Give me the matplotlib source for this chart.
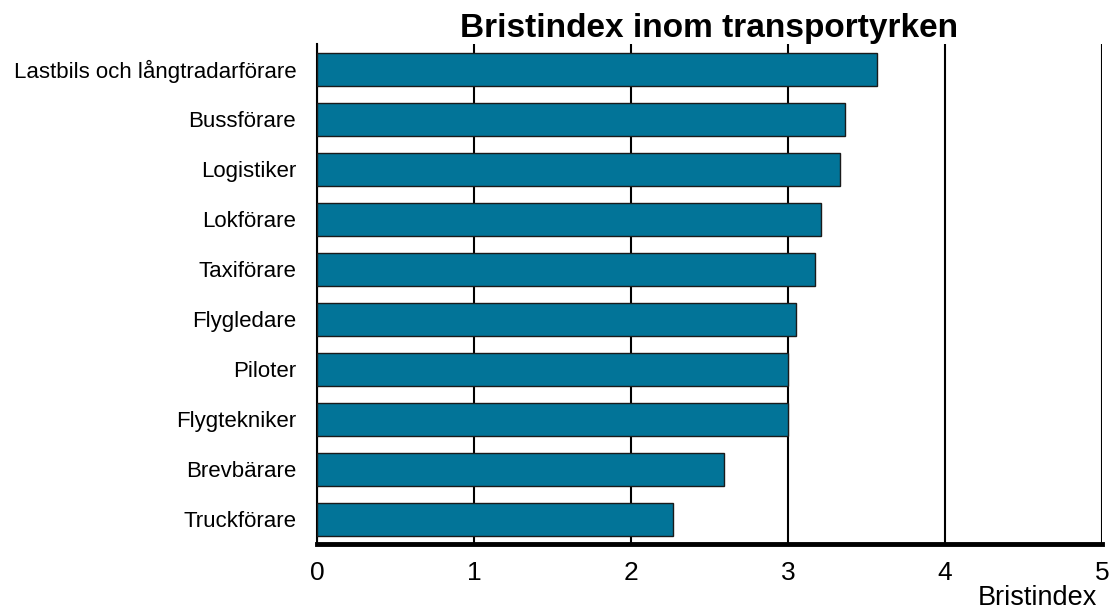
import matplotlib.pyplot as plt

plt.rcParams['font.family'] = ['Liberation Sans', 'DejaVu Sans']

# Data
yrken = ['Lastbils och långtradarförare', 'Bussförare', 'Logistiker', 'Lokförare',
         'Taxiförare', 'Flygledare', 'Piloter', 'Flygtekniker', 'Brevbärare',
         'Truckförare']
bristindex = [3.57, 3.36, 3.33, 3.21, 3.17, 3.05, 3.00, 3.00, 2.59, 2.27]
xticks = [0, 1, 2, 3, 4, 5]

fig = plt.figure(figsize=(11.11, 6.12), dpi=100)
ax = fig.add_axes([0.2853, 0.111, 0.7066, 0.817])

ypos = list(range(len(yrken)))
ax.barh(ypos, bristindex, height=0.66, color='#027498', edgecolor='#1a1a1a',
        linewidth=1, zorder=3)

ax.set_ylim(len(yrken) - 0.5, -0.5)
ax.set_yticks(ypos)
ax.set_yticklabels(yrken, fontsize=16)
ax.tick_params(axis='y', length=0, pad=15)

ax.set_xlim(0, 5)
ax.set_xticks(xticks)
ax.set_xticklabels([str(t) for t in xticks], fontsize=19)
ax.tick_params(axis='x', length=0, pad=12)

# vertical grid lines
ax.grid(axis='x', color='black', linewidth=1.5, zorder=1)
ax.set_axisbelow(True)

for s in ['top', 'right']:
    ax.spines[s].set_visible(False)
ax.spines['left'].set_linewidth(1.5)
ax.spines['bottom'].set_linewidth(3.5)
ax.spines['bottom'].set_zorder(4)

ax.set_title('Bristindex inom transportyrken', fontsize=24, fontweight='bold', pad=0)
ax.set_xlabel('Bristindex', fontsize=19.5)
ax.xaxis.set_label_coords(0.994, -0.082)
ax.xaxis.label.set_horizontalalignment('right')

fig.savefig('out.png', dpi=100)
